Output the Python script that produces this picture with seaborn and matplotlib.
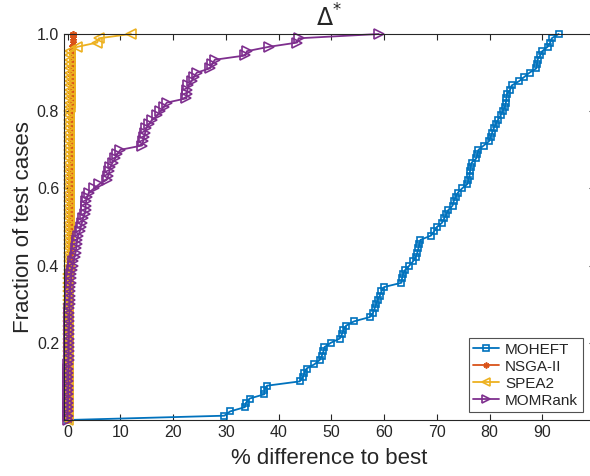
import numpy as np
import matplotlib
matplotlib.use("Agg")
import matplotlib.pyplot as plt
import seaborn as sns
import pandas as pd

colors = {'MOHEFT': '#0072BD', 'NSGA-II': '#D95319', 'SPEA2': '#EDB120', 'MOMRank': '#7E2F8E'}
markers = {'MOHEFT': 's', 'NSGA-II': (6, 2, 0), 'SPEA2': '<', 'MOMRank': '>'}
msizes = {'MOHEFT': 5.0, 'NSGA-II': 5.0, 'SPEA2': 6.5, 'MOMRank': 6.5}

# % difference to best, one value per test case (sorted)
moheft = [29.7, 30.8, 33.6, 33.8, 34.5, 37.3, 37.3, 37.8, 44.0, 44.6,
          44.9, 45.3, 46.8, 47.8, 48.2, 48.5, 48.7, 49.9, 51.6, 52.0,
          52.3, 52.8, 54.3, 57.3, 57.9, 58.2, 58.5, 58.8, 59.2, 59.5,
          60.0, 63.3, 63.4, 63.6, 64.0, 64.8, 65.5, 66.0, 66.3, 66.5,
          66.7, 66.9, 68.9, 69.5, 70.0, 71.0, 71.4, 71.8, 72.2, 73.0,
          73.2, 73.6, 74.0, 74.8, 75.8, 76.0, 76.2, 76.3, 76.4, 76.6,
          77.5, 77.7, 77.9, 78.9, 79.9, 80.2, 80.5, 80.8, 81.2, 81.6,
          82.1, 82.5, 82.9, 83.1, 83.2, 83.3, 83.9, 84.2, 85.6, 86.6,
          87.6, 88.9, 89.0, 89.1, 89.6, 90.0, 91.0, 91.5, 91.8, 93.1]

nsga2 = [0.0, 0.0, 0.01, 0.02, 0.03, 0.04, 0.05, 0.06, 0.07, 0.08,
         0.09, 0.1, 0.11, 0.12, 0.13, 0.14, 0.15, 0.16, 0.17, 0.18,
         0.19, 0.2, 0.21, 0.22, 0.23, 0.24, 0.25, 0.26, 0.27, 0.28,
         0.29, 0.3, 0.31, 0.32, 0.33, 0.34, 0.35, 0.36, 0.37, 0.38,
         0.39, 0.4, 0.41, 0.42, 0.43, 0.44, 0.45, 0.46, 0.47, 0.48,
         0.49, 0.5, 0.5, 0.51, 0.51, 0.52, 0.52, 0.53, 0.53, 0.54,
         0.54, 0.55, 0.55, 0.56, 0.56, 0.57, 0.57, 0.58, 0.58, 0.59,
         0.6, 0.6, 0.61, 0.62, 0.63, 0.64, 0.65, 0.66, 0.67, 0.68,
         0.7, 0.72, 0.74, 0.76, 0.8, 0.84, 0.88, 0.92, 0.96, 1.0]

spea2 = [0.0, 0.0, 0.0, 0.0, 0.01, 0.01, 0.02, 0.02, 0.03, 0.03,
         0.04, 0.04, 0.05, 0.05, 0.06, 0.06, 0.07, 0.07, 0.08, 0.08,
         0.09, 0.09, 0.1, 0.1, 0.11, 0.11, 0.12, 0.12, 0.13, 0.13,
         0.14, 0.14, 0.15, 0.15, 0.16, 0.16, 0.17, 0.17, 0.18, 0.18,
         0.19, 0.19, 0.2, 0.2, 0.21, 0.21, 0.22, 0.22, 0.23, 0.23,
         0.24, 0.24, 0.25, 0.25, 0.26, 0.26, 0.27, 0.27, 0.28, 0.28,
         0.29, 0.29, 0.3, 0.3, 0.31, 0.31, 0.32, 0.32, 0.33, 0.33,
         0.34, 0.34, 0.35, 0.35, 0.36, 0.36, 0.37, 0.37, 0.38, 0.38,
         0.39, 0.4, 0.41, 0.42, 0.45, 0.5, 1.8, 5.6, 5.9, 12.0]

momrank = [0.0, 0.02, 0.04, 0.05, 0.06, 0.08, 0.09, 0.1, 0.11, 0.12,
           0.13, 0.14, 0.15, 0.16, 0.17, 0.18, 0.19, 0.2, 0.21, 0.22,
           0.24, 0.26, 0.28, 0.3, 0.32, 0.34, 0.36, 0.38, 0.41, 0.45,
           0.5, 0.6, 0.65, 0.7, 0.8, 0.95, 1.1, 1.3, 1.5, 1.6,
           1.7, 1.8, 2.0, 2.3, 2.5, 2.7, 2.9, 3.2, 3.4, 3.4,
           3.5, 3.7, 4.0, 5.0, 6.0, 7.4, 7.7, 7.9, 8.1, 8.5,
           9.0, 9.4, 10.0, 14.1, 14.3, 14.5, 14.7, 14.9, 15.4, 16.0,
           17.0, 17.6, 18.2, 18.8, 22.5, 22.6, 22.7, 22.9, 23.5, 23.9,
           24.5, 27.0, 27.4, 27.9, 33.7, 34.0, 38.1, 43.5, 43.8, 59.0]

series = {'MOHEFT': moheft, 'NSGA-II': nsga2, 'SPEA2': spea2, 'MOMRank': momrank}


def ecdf_frame(name, values):
    # cumulative fraction of test cases, starting from (0, 0)
    n = len(values)
    return pd.DataFrame({'pct': [0.0] + list(values),
                         'frac': [i / n for i in range(n + 1)],
                         'algo': name})


sns.set_style("white")
plt.rcParams['font.family'] = ['Liberation Sans', 'DejaVu Sans']

fig = plt.figure(figsize=(5.9, 4.76), dpi=100)
ax = fig.add_axes([64 / 590, 56 / 476, 531 / 590, 386 / 476])

for name, vals in series.items():
    df = ecdf_frame(name, vals)
    c = colors[name]
    sns.lineplot(data=df, x='pct', y='frac', ax=ax, label=name, color=c,
                 marker=markers[name], markersize=msizes[name], markerfacecolor='none',
                 markeredgecolor=c, markeredgewidth=1.2, linewidth=1.3,
                 estimator=None, sort=False, clip_on=False)

ax.set_xlim(-0.7, 100)
ax.set_ylim(0, 1)
ax.set_xticks(np.arange(0, 100, 10))
ax.set_yticks([0.2, 0.4, 0.6, 0.8, 1.0])
ax.set_yticklabels(['0.2', '0.4', '0.6', '0.8', '1.0'])
ax.tick_params(direction='in', length=4, width=0.8, colors='#262626',
               labelsize=11.5, top=True, right=True, left=True, bottom=True)
for sp in ax.spines.values():
    sp.set_color('#262626')
    sp.set_linewidth(0.8)
    sp.set_visible(True)

ax.set_xlabel('% difference to best', fontsize=16, color='#262626', labelpad=6)
ax.set_ylabel('Fraction of test cases', fontsize=16, color='#262626', labelpad=2)
ax.set_title(r'$\Delta^{*}$', fontsize=17, pad=5)

leg = ax.legend(loc='lower right', bbox_to_anchor=(0.977, 0.02),
                fontsize=11, frameon=True, fancybox=False, handlelength=1.7,
                borderpad=0.3, labelspacing=0.2, handletextpad=0.4,
                borderaxespad=0, markerscale=0.85)
leg.get_frame().set_edgecolor('#262626')
leg.get_frame().set_linewidth(0.8)

fig.savefig('out.png', dpi=100)
